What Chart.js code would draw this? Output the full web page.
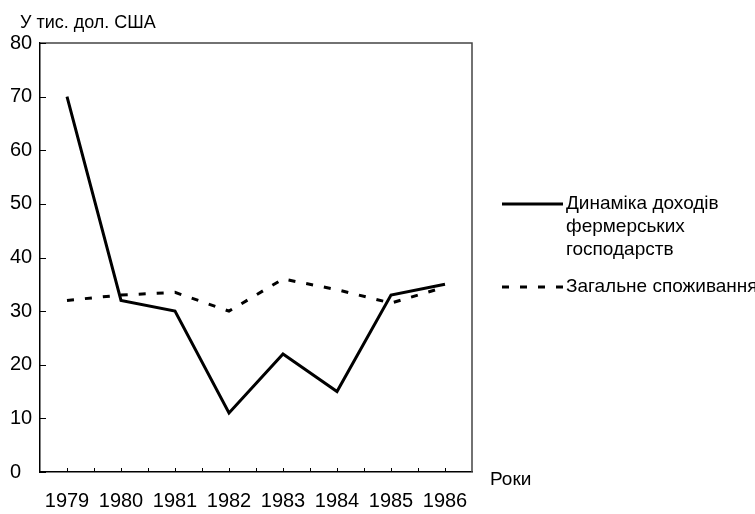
<!DOCTYPE html>
<html>
<head>
<meta charset="utf-8">
<title>Динаміка доходів фермерських господарств</title>
<script src="https://cdn.jsdelivr.net/npm/chart.js@4.4.1/dist/chart.umd.min.js"></script>
<style>
  html, body { margin: 0; padding: 0; background: #fff; }
  #wrap { position: relative; width: 755px; height: 514px; }
</style>
</head>
<body>
<div id="wrap"><canvas id="farmChart"></canvas></div>
<script>
// chart data
const years = ['1979', '1980', '1981', '1982', '1983', '1984', '1985', '1986'];
const farmIncome = [70, 32, 30, 11, 22, 15, 33, 35];
const totalConsumption = [32, 33, 33.5, 30, 36, 34, 31.5, 34.5];
const yTicks = [0, 10, 20, 30, 40, 50, 60, 70, 80];

// texts
const yTitle = 'У тис. дол. США';
const xTitle = 'Роки';
const incomeLegend = ['Динаміка доходів', 'фермерських', 'господарств'];
const consumptionLegend = ['Загальне споживання'];

const FONT = 'Liberation Sans, Arial, sans-serif';

// frame, inner tick marks, axis titles and the side legend
const extrasPlugin = {
  id: 'extras',
  afterDraw(chart) {
    const ctx = chart.ctx;
    const area = chart.chartArea;
    const x = chart.scales.x;
    const y = chart.scales.y;
    ctx.save();

    // top and right sides of the box
    ctx.strokeStyle = '#444';
    ctx.lineWidth = 1.5;
    ctx.beginPath();
    ctx.moveTo(area.left, area.top);
    ctx.lineTo(area.right, area.top);
    ctx.lineTo(area.right, area.bottom);
    ctx.stroke();

    // tick marks pointing into the plot
    ctx.strokeStyle = '#000';
    ctx.lineWidth = 1;
    ctx.beginPath();
    yTicks.forEach(v => {
      const py = Math.round(y.getPixelForValue(v)) + 0.5;
      ctx.moveTo(area.left, py);
      ctx.lineTo(area.left + 6, py);
    });
    for (let i = 0; i < years.length; i++) {
      const px = Math.round(x.getPixelForValue(i)) + 0.5;
      ctx.moveTo(px, area.bottom);
      ctx.lineTo(px, area.bottom - 4);
      if (i < years.length - 1) {
        const mx = Math.round((x.getPixelForValue(i) + x.getPixelForValue(i + 1)) / 2) + 0.5;
        ctx.moveTo(mx, area.bottom);
        ctx.lineTo(mx, area.bottom - 4);
      }
    }
    ctx.stroke();

    // axis titles
    ctx.fillStyle = '#000';
    ctx.textBaseline = 'middle';
    ctx.textAlign = 'left';
    ctx.font = '18px ' + FONT;
    ctx.fillText(yTitle, 20, 23);
    ctx.font = '19px ' + FONT;
    ctx.fillText(xTitle, area.right + 18, area.bottom + 8);

    // legend
    const lx = area.right + 30;
    const entries = [
      { ds: chart.data.datasets[0], lines: incomeLegend, top: 204 },
      { ds: chart.data.datasets[1], lines: consumptionLegend, top: 287 }
    ];
    ctx.font = '19px ' + FONT;
    entries.forEach(e => {
      ctx.strokeStyle = e.ds.borderColor;
      ctx.lineWidth = e.ds.borderWidth;
      ctx.setLineDash(e.ds.borderDash || []);
      ctx.beginPath();
      ctx.moveTo(lx, e.top);
      ctx.lineTo(lx + 61, e.top);
      ctx.stroke();
      ctx.setLineDash([]);
      e.lines.forEach((t, k) => {
        ctx.fillText(t, lx + 64, e.top + k * 23);
      });
    });
    ctx.restore();
  }
};

const ctx = document.getElementById('farmChart').getContext('2d');

new Chart(ctx, {
  type: 'line',
  data: {
    labels: years,
    datasets: [
      {
        label: incomeLegend.join(' '),
        data: farmIncome,
        borderColor: '#000',
        borderWidth: 3,
        pointRadius: 0,
        tension: 0,
        fill: false
      },
      {
        label: consumptionLegend.join(' '),
        data: totalConsumption,
        borderColor: '#000',
        borderWidth: 3,
        borderDash: [7, 11],
        pointRadius: 0,
        tension: 0,
        fill: false
      }
    ]
  },
  options: {
    responsive: true,
    maintainAspectRatio: false,
    animation: false,
    layout: {
      padding: { left: 10, top: 43, right: 283, bottom: 0 }
    },
    scales: {
      x: {
        offset: true,
        grid: { display: false, drawTicks: false },
        border: { display: true, color: '#000', width: 1.5 },
        ticks: {
          color: '#000',
          padding: 17,
          maxRotation: 0,
          autoSkip: false,
          font: { family: FONT, size: 20 }
        },
        afterFit(scale) { scale.height = 42; }
      },
      y: {
        min: 0,
        max: 80,
        grid: { display: false, drawTicks: false },
        border: { display: true, color: '#000', width: 1.5 },
        afterBuildTicks(scale) { scale.ticks = yTicks.map(v => ({ value: v })); },
        ticks: {
          color: '#000',
          crossAlign: 'far',
          padding: 0,
          font: { family: FONT, size: 20 }
        },
        afterFit(scale) { scale.width = 30; }
      }
    },
    plugins: {
      legend: { display: false },
      tooltip: { enabled: false }
    }
  },
  plugins: [extrasPlugin]
});
</script>
</body>
</html>
